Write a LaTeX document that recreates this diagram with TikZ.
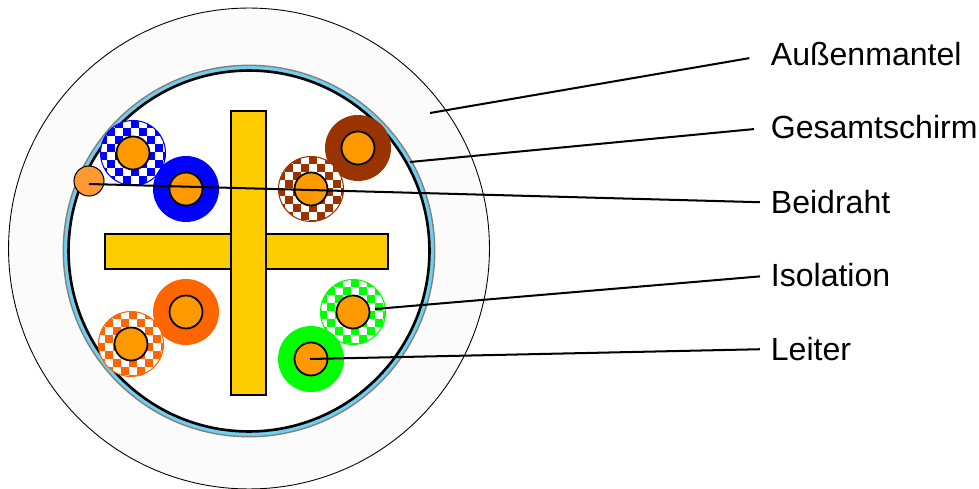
\documentclass[tikz,border=0pt]{standalone}
\usepackage{fontspec}
\setmainfont{Liberation Sans}
\usetikzlibrary{positioning,calc}
\definecolor{shieldblue}{HTML}{70D0F0}
\definecolor{coreorange}{HTML}{FF9900}
\definecolor{drainorange}{HTML}{FF9933}
\definecolor{crossyellow}{HTML}{FFCC00}
\definecolor{wirebrown}{HTML}{993300}
\definecolor{wireorange}{HTML}{FF6600}
\definecolor{jacketgrey}{HTML}{FBFBFB}
\begin{document}
\begin{tikzpicture}[x=0.02cm,y=-0.02cm,
    solid/.style={circle,inner sep=0pt,minimum size=1.32cm,fill=#1},
    stripe/.style={circle,inner sep=0pt,minimum size=1.3cm,draw=#1,line width=0.6pt,fill=white,path picture={
      \foreach \i in {-5,...,4} \foreach \j in {-5,...,4} {
        \pgfmathtruncatemacro\k{mod(\i+\j+10,2)}
        \ifnum\k=0 \fill[#1,shift={(path picture bounding box.center)}] (8*\i-2,8*\j-1) rectangle ++(8,8); \fi}}},
    core/.style={circle,inner sep=0pt,minimum size=0.66cm,draw=black,line width=1pt,fill=coreorange},
    lab/.style={anchor=west,inner sep=0pt,font=\fontsize{18.25}{20}\selectfont},
    lead/.style={draw=black,line width=1.15pt}]
    \useasboundingbox (0,0) rectangle (979,489);
    \node[circle,inner sep=0pt,minimum size=9.62cm,draw=black,line width=0.5pt,fill=jacketgrey] (jacket) at (249,248.5) {};
    \node[circle,inner sep=0pt,minimum size=7.43cm,draw=black!50,line width=0.8pt,fill=shieldblue] (shield) at (249,251) {};
    \node[circle,inner sep=0pt,minimum size=7.22cm,draw=black,line width=1.5pt,fill=white] (inner) at (249,251) {};
    % cross
    \node[rectangle,inner sep=0pt,minimum width=5.66cm,minimum height=0.7cm,draw=black,line width=0.9pt,fill=crossyellow] (crossh) at (246.5,251.5) {};
    \node[rectangle,inner sep=0pt,minimum width=0.7cm,minimum height=5.68cm,draw=black,line width=0.9pt,fill=crossyellow] (crossv) at (248.5,253) {};
    % pairs
    \node[stripe=blue] (bluea) at (133,153) {};
    \node[solid=blue] (blueb) at (186,189) {};
    \node[solid=wirebrown] (brownb) at (358,148) {};
    \node[stripe=wirebrown] (browna) at (311,189) {};
    \node[solid=wireorange] (orangeb) at (186,312) {};
    \node[stripe=wireorange] (orangea) at (131,344) {};
    \node[stripe=green] (greena) at (353,312) {};
    \node[solid=green] (greenb) at (311,359) {};
    \foreach \w in {bluea,blueb,brownb,browna,orangeb,orangea,greena,greenb}
      \node[core] (c\w) at (\w) {};
    \node[circle,inner sep=0pt,minimum size=0.6cm,draw=black,line width=0.6pt,fill=drainorange] (drain) at (89,181) {};
    % labels
    \node[lab] (laussen) at (770.5,54.5) {Außenmantel};
    \node[lab] (lschirm) at (770.5,127.5) {Gesamtschirm};
    \node[lab] (lbeid) at (770.5,202.5) {Beidraht};
    \node[lab] (liso) at (770.5,275.5) {Isolation};
    \node[lab] (lleit) at (770.5,349) {Leiter};
    \coordinate (paussen) at (430,113);
    \coordinate (pschirm) at (410,162);
    \coordinate (pbeid) at (89,184);
    \coordinate (piso) at (375,309);
    \coordinate (pleit) at (310,359);
    \draw[lead,shorten >=12.2pt] (paussen)--(laussen.west);
    \draw[lead,shorten >=9.4pt] (pschirm)--(lschirm.west);
    \draw[lead,shorten >=6pt] (pbeid)--(lbeid.west);
    \draw[lead,shorten >=6pt] (piso)--(liso.west);
    \draw[lead,shorten >=6pt] (pleit)--(lleit.west);
\end{tikzpicture}
\end{document}
